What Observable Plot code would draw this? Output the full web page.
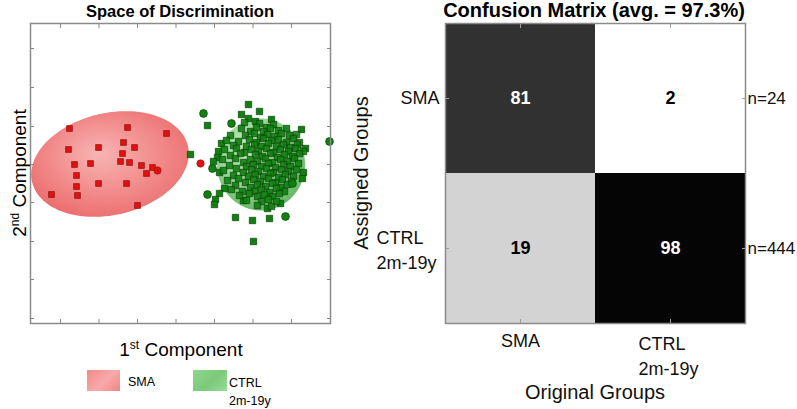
<!DOCTYPE html>
<html><head><meta charset="utf-8">
<script src="https://cdn.jsdelivr.net/npm/d3@7"></script>
<script src="https://cdn.jsdelivr.net/npm/@observablehq/plot@0.6"></script>
<style>
body{margin:0;background:#fff;font-family:"Liberation Sans",Arial,Helvetica,sans-serif;}
#wrap{position:relative;width:797px;height:409px;overflow:hidden;background:#fff;}
.abs{position:absolute;white-space:nowrap;color:#000;}
.plot{position:absolute;top:0;}
</style></head><body><div id="wrap"></div>
<script>
// ---------- Left panel: discriminant space (arbitrary component units) ----------
const xTicks = [30, 68.5, 107, 145.5, 184, 222.5, 261];
const yTicks = [5, 44, 82, 121, 159, 197, 236, 275];

// SMA, correctly placed (squares)
const smaSquares = [
  [39,195],[97,196],[136,190],[38,174],[68,176],[93,181],[104,176],[92,170],
  [44,159],[60,160],[90,162],[99,161],[111,158],[122,156],[116,150],[46,148],
  [68,140],[96,140],[46,137],[21,129],[47,128],[107,118]
];
// SMA circles
const smaCircles = [[127,153],[170,160]];
// CTRL circles
const ctrlCircles = [[173,210],[201,200],[182,155],[177,129],[255,107],[299,182],[262,140]];
// CTRL squares, outer ones
const ctrlOuter = [
  [218,219],[229,212],[211,209],[177,198],[218,205],[225,202],[241,204],[271,194],
  [160,169],[191,180],[188,172],[187,166],[275,175],[183,162],[189,151],[273,151],
  [272,145],[194,135],[189,130],[185,124],[184,119],[213,123],[237,115],[250,120],
  [205,106],[222,103],[239,105],[223,82]
];
// CTRL squares, dense core
const ctrlCore = [
  [214,201],[229,200],[243,199],[236,196],
  [211,195],[220,192],[226,196],[233,192],[240,195],[248,193],[256,195],
  [200,188],[215,188],[224,190],[230,186],[237,189],[244,187],[251,190],[259,188],[266,189],
  [196,183],[208,182],[219,184],[226,181],[233,185],[241,183],[248,184],[256,181],[263,185],[269,181],
  [203,178],[216,177],[224,179],[231,177],[238,180],[246,177],[253,179],[260,176],[267,179],
  [194,174],[206,175],[214,171],[221,174],[228,172],[236,175],[243,171],[250,174],[258,172],[265,175],[273,172],
  [200,168],[210,170],[225,169],[232,167],[240,170],[247,166],[254,169],[262,167],[269,170],
  [192,164],[205,165],[213,161],[220,164],[227,162],[235,165],[242,161],[250,164],[257,162],[264,165],
  [199,158],[216,157],[223,159],[231,157],[238,160],[245,156],[253,159],[260,157],[268,160],
  [193,153],[206,155],[213,151],[221,154],[228,152],[236,155],[243,151],[251,154],[258,152],[266,154],
  [203,148],[218,147],[225,149],[233,147],[240,150],[248,146],[255,149],[263,147],
  [197,143],[208,145],[215,141],[223,144],[230,142],[238,145],[245,141],[252,144],[261,142],
  [205,138],[220,136],[227,139],[235,137],[242,140],[250,136],[257,139],
  [201,134],[212,132],[224,132],[231,134],[239,131],[246,135],[254,132],
  [209,128],[219,130],[227,127],[234,129],[242,127],[249,130],
  [216,123],[231,122],[238,124],[246,122],
  [227,118],[241,117]
];
// confidence ellipses
const ellipseGroup = ["SMA", "CTRL"];
const ellipseCx = [79.5, 230.5];
const ellipseCy = [159.5, 159];
const ellipseA = [80, 44];
const ellipseB = [51, 46];
const ellipseAngle = [13, 0];

// ---------- Right panel: confusion matrix ----------
const groups = ["SMA", "CTRL"];
const groupLabels = ["SMA", "CTRL\n2m-19y"];
const cellAssigned = ["SMA", "SMA", "CTRL", "CTRL"];
const cellOriginal = ["SMA", "CTRL", "SMA", "CTRL"];
const cellPercent = [81, 2, 19, 98];
const groupN = [24, 444];

// ---------- build ----------
function ellipsePath(i) {
  const t = ellipseAngle[i] * Math.PI / 180;
  return d3.range(0, 360, 3).map(k => {
    const u = k * Math.PI / 180;
    const ca = ellipseA[i] * Math.cos(u), sb = ellipseB[i] * Math.sin(u);
    return {x: ellipseCx[i] + ca * Math.cos(t) - sb * Math.sin(t),
            y: ellipseCy[i] + ca * Math.sin(t) + sb * Math.cos(t)};
  });
}
const toXY = arr => arr.map(([x, y]) => ({x, y}));

function defsMark() {
  const ns = "http://www.w3.org/2000/svg";
  const g = document.createElementNS(ns, "g");
  g.innerHTML = `<defs>
    <radialGradient id="gRed" cx="50%" cy="45%" r="60%" fx="42%" fy="40%">
      <stop offset="0%" stop-color="#f7b0b0"/>
      <stop offset="45%" stop-color="#f38e8e"/>
      <stop offset="100%" stop-color="#ea6464"/>
    </radialGradient>
    <radialGradient id="gGreen" cx="42%" cy="38%" r="65%" fx="35%" fy="30%">
      <stop offset="0%" stop-color="#c4ecc0"/>
      <stop offset="55%" stop-color="#93d690"/>
      <stop offset="100%" stop-color="#5cb35c"/>
    </radialGradient>
  </defs>`;
  return g;
}

const redFill = "#e21111", redStroke = "#7c0a0a";
const greenFill = "#11800f", greenStroke = "#0a420a";
const axisGray = "#8a8a8a";

const left = Plot.plot({
  width: 340, height: 330,
  marginLeft: 30, marginRight: 10, marginTop: 23, marginBottom: 7,
  x: {domain: [0, 300], axis: null},
  y: {domain: [0, 300], axis: null},
  style: {background: "transparent", fontFamily: "Liberation Sans, Arial, sans-serif"},
  marks: [
    defsMark,
    Plot.line(ellipsePath(0), {x: "x", y: "y", curve: "linear-closed", fill: "url(#gRed)", stroke: "none", fillOpacity: 0.95}),
    Plot.line(ellipsePath(1), {x: "x", y: "y", curve: "linear-closed", fill: "url(#gGreen)", stroke: "none", fillOpacity: 0.95}),
    Plot.dot(toXY(ctrlOuter), {x: "x", y: "y", symbol: "square", r: 3.6, fill: greenFill, stroke: greenStroke, strokeWidth: 0.7}),
    Plot.dot(toXY(ctrlCore), {x: "x", y: "y", symbol: "square", r: 3.6, fill: greenFill, stroke: greenStroke, strokeWidth: 0.7, fillOpacity: 0.9}),
    Plot.dot(toXY(ctrlCircles), {x: "x", y: "y", symbol: "circle", r: 3.9, fill: greenFill, stroke: greenStroke, strokeWidth: 0.7}),
    Plot.dot(toXY(smaSquares), {x: "x", y: "y", symbol: "square", r: 3.3, fill: redFill, stroke: redStroke, strokeWidth: 0.6}),
    Plot.dot(toXY(smaCircles), {x: "x", y: "y", symbol: "circle", r: 3.7, fill: redFill, stroke: "#a10d0d", strokeWidth: 0.6}),
    Plot.axisX(xTicks, {anchor: "bottom", tickSize: -4, tickFormat: () => "", label: null, stroke: axisGray}),
    Plot.axisX(xTicks, {anchor: "top", tickSize: -4, tickFormat: () => "", label: null, stroke: axisGray}),
    Plot.axisY(yTicks, {anchor: "left", tickSize: -4, tickFormat: () => "", label: null, stroke: axisGray}),
    Plot.axisY(yTicks, {anchor: "right", tickSize: -4, tickFormat: () => "", label: null, stroke: axisGray}),
    Plot.frame({stroke: axisGray, strokeWidth: 1.5})
  ]
});
left.classList.add("plot");
left.style.left = "0px";

const cells = cellPercent.map((v, i) => ({assigned: cellAssigned[i], original: cellOriginal[i], value: v}));
const right = Plot.plot({
  width: 457, height: 409,
  marginLeft: 105, marginRight: 52, marginTop: 23, marginBottom: 86,
  x: {domain: groups, padding: 0, axis: null},
  y: {domain: groups, padding: 0, axis: null},
  color: {type: "linear", domain: [2, 100], range: ["#ffffff", "#000000"]},
  style: {background: "transparent", fontFamily: "Liberation Sans, Arial, sans-serif", overflow: "visible"},
  marks: [
    Plot.cell(cells, {x: "original", y: "assigned", fill: "value"}),
    Plot.text(cells.filter(d => d.value > 50), {x: "original", y: "assigned", text: d => String(d.value), fill: "white", fontWeight: "bold", fontSize: 18}),
    Plot.text(cells.filter(d => d.value <= 50), {x: "original", y: "assigned", text: d => String(d.value), fill: "black", fontWeight: "bold", fontSize: 18}),
    Plot.axisX(groups, {anchor: "bottom", tickSize: -4, tickFormat: () => "", label: null, stroke: "#a0a0a0"}),
    Plot.axisX(groups, {anchor: "top", tickSize: -4, tickFormat: () => "", label: null, stroke: "#a0a0a0"}),
    Plot.axisY(groups, {anchor: "left", tickSize: -4, tickFormat: () => "", label: null, stroke: "#a0a0a0"}),
    Plot.axisY(groups, {anchor: "right", tickSize: -4, tickFormat: () => "", label: null, stroke: "#a0a0a0"}),
    // row labels
    Plot.text([0], {y: () => groups[0], text: () => groupLabels[0], frameAnchor: "left", textAnchor: "end", dx: -6, fontSize: 18, fill: "#111"}),
    Plot.text([1], {y: () => groups[1], text: () => groupLabels[1], frameAnchor: "left", textAnchor: "start", dx: -69, fontSize: 18, lineHeight: 1.42, lineAnchor: "middle", fill: "#111"}),
    // column labels
    Plot.text([0], {x: () => groups[0], text: () => groupLabels[0], frameAnchor: "bottom", textAnchor: "middle", dy: 18, fontSize: 18, lineAnchor: "middle", fill: "#111"}),
    Plot.text([1], {x: () => groups[1], text: () => groupLabels[1], frameAnchor: "bottom", textAnchor: "start", dx: -32, dy: 31, fontSize: 18, lineHeight: 1.42, lineAnchor: "middle", fill: "#111"}),
    // group sizes
    Plot.text(groups, {y: d => d, text: (d, i) => "n=" + groupN[i], frameAnchor: "right", textAnchor: "start", dx: 2, fontSize: 17, fill: "#111"}),
    Plot.frame({stroke: "#8a8a8a", strokeWidth: 1.5})
  ]
});
right.classList.add("plot");
right.style.left = "340px";

const wrap = document.getElementById("wrap");
wrap.appendChild(left);
wrap.appendChild(right);

function addText(html, css) {
  const d = document.createElement("div");
  d.className = "abs";
  d.innerHTML = html;
  Object.assign(d.style, css);
  wrap.appendChild(d);
  return d;
}
addText("Space of Discrimination", {left: "30px", width: "300px", textAlign: "center", top: "3px", fontSize: "16.5px", lineHeight: "16px", fontWeight: "bold"});
addText("Confusion Matrix (avg. = 97.3%)", {left: "394px", width: "400px", textAlign: "center", top: "0px", fontSize: "20px", lineHeight: "20px", fontWeight: "bold"});
addText("1<sup style='font-size:12px;vertical-align:7px'>st</sup> Component", {left: "81px", width: "200px", textAlign: "center", top: "336px", fontSize: "19px", lineHeight: "19px"});
addText("2<sup style='font-size:12px;vertical-align:7px'>nd</sup> Component", {left: "-85px", width: "200px", height: "22px", textAlign: "center", top: "162px", fontSize: "19px", lineHeight: "22px", transform: "rotate(-90deg)"});
addText("Assigned Groups", {left: "241px", width: "240px", height: "22px", textAlign: "center", top: "162px", fontSize: "20px", lineHeight: "22px", transform: "rotate(-90deg)", color: "#111"});
addText("Original Groups", {left: "445px", width: "300px", textAlign: "center", top: "381px", fontSize: "20px", lineHeight: "22px", color: "#111"});
// legend
addText("", {left: "87px", top: "370px", width: "33px", height: "21px", background: "linear-gradient(135deg,#f38a8a,#f7a9a9 55%,#f28686)"});
addText("SMA", {left: "128px", top: "375px", fontSize: "12.5px", lineHeight: "14px"});
addText("", {left: "193px", top: "370px", width: "34px", height: "21px", background: "linear-gradient(135deg,#8fd68d,#7cc97a 55%,#98dc96)"});
addText("CTRL", {left: "229px", top: "376px", fontSize: "12.5px", lineHeight: "14px"});
addText("2m-19y", {left: "229px", top: "394px", fontSize: "12.5px", lineHeight: "14px"});
</script></body></html>
